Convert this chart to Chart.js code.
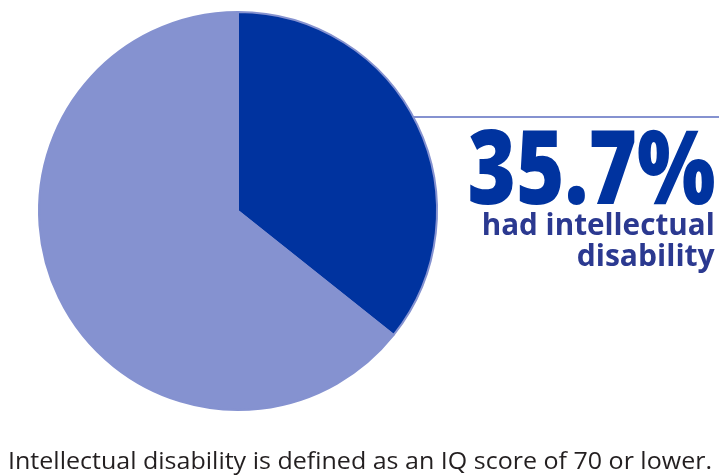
<!DOCTYPE html>
<html>
<head>
<meta charset="utf-8">
<script src="https://cdn.jsdelivr.net/npm/chart.js@4/dist/chart.umd.min.js"></script>
<style>
  body { margin: 0; background: #fff; }
  #wrap { position: relative; width: 719px; height: 475px; overflow: hidden; }
  #pie { position: absolute; left: 0; top: 0; }
  .leader { position: absolute; left: 413px; top: 116px; width: 306px; height: 2px; background: #8592d0; }
  .big { position: absolute; right: 4px; top: 106px; font-family: "Open Sans", sans-serif; font-weight: 800; font-size: 103px; line-height: 116px; color: #00339f; white-space: nowrap; transform-origin: right center; }
  .sub { position: absolute; right: 4px; font-family: "Open Sans", sans-serif; font-weight: bold; font-size: 30px; line-height: 30px; color: #2b3990; white-space: nowrap; transform-origin: right center; }
  .caption { position: absolute; left: 8px; top: 445px; font-family: "Open Sans", sans-serif; font-size: 23px; line-height: 30px; color: #231f20; white-space: nowrap; transform-origin: left center; }
</style>
</head>
<body>
<div id="wrap">
  <canvas id="pie" width="719" height="475"></canvas>
  <div class="leader"></div>
  <div class="big" id="big">35.7%</div>
  <div class="sub" id="sub1" style="top:209px">had intellectual</div>
  <div class="sub" id="sub2" style="top:240px">disability</div>
  <div class="caption" id="caption">Intellectual disability is defined as an IQ score of 70 or lower.</div>
</div>
<script>
const categories = ['Had intellectual disability', 'Did not have intellectual disability'];
const shares = [35.7, 64.3];
const sliceColors = ['#00339f', '#8592d0'];

// squeeze text to the widths seen in the reference
function fitWidth(id, target) {
  const el = document.getElementById(id);
  const w = el.getBoundingClientRect().width;
  el.style.transform = 'scaleX(' + (target / w) + ')';
}
fitWidth('big', 248);
fitWidth('sub1', 233);
fitWidth('sub2', 138);
fitWidth('caption', 704);

const ctx = document.getElementById('pie').getContext('2d');
new Chart(ctx, {
  type: 'pie',
  data: {
    labels: categories,
    datasets: [{
      data: shares,
      backgroundColor: sliceColors,
      borderColor: '#8592d0',
      borderWidth: 2
    }]
  },
  options: {
    responsive: false,
    animation: false,
    layout: { padding: { left: 38, top: 11, right: 281, bottom: 64 } },
    plugins: {
      legend: { display: false },
      tooltip: { enabled: false }
    }
  }
});
</script>
</body>
</html>
